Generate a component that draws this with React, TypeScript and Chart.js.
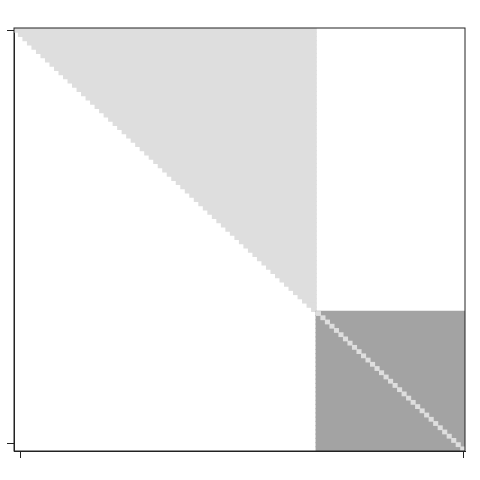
import React, { useEffect, useRef } from "react";
import { Chart, registerables } from "chart.js";

Chart.register(...registerables);

// Matrix structure (100 x 100 cells)
const MATRIX_SIZE = 100;
const BLOCK_START = 67; // first row/column of the dark block

const rowLabels: string[] = Array.from({ length: MATRIX_SIZE }, (_, i) => String(i + 1));

// Upper-triangle light region: row i covers columns i .. BLOCK_START
const triangleRuns: ([number, number] | null)[] = rowLabels.map((_, i) =>
  i < BLOCK_START ? [i, BLOCK_START] : null
);
// Dark block in the lower-right corner
const blockRuns: ([number, number] | null)[] = rowLabels.map((_, i) =>
  i >= BLOCK_START ? [BLOCK_START, MATRIX_SIZE] : null
);
// Light diagonal inside the dark block
const diagonalRuns: ([number, number] | null)[] = rowLabels.map((_, i) =>
  i >= BLOCK_START ? [i, i + 1] : null
);

const xTickValues = [1.55, 99.6];
const yTickValues = [0.64, 98.3];

const LIGHT = "#dedede";
const DARK = "#a3a3a3";
const AXIS = "#222222";

const framePlugin = {
  id: "frame",
  afterDraw(chart: any) {
    const { ctx, chartArea } = chart;
    ctx.save();
    ctx.strokeStyle = AXIS;
    ctx.lineWidth = 1;
    ctx.strokeRect(chartArea.left, chartArea.top, chartArea.right - chartArea.left, chartArea.bottom - chartArea.top);
    ctx.restore();
  },
};

export default function App() {
  const canvasRef = useRef<HTMLCanvasElement | null>(null);

  useEffect(() => {
    if (!canvasRef.current) return;
    const chart = new Chart(canvasRef.current, {
      type: "bar",
      data: {
        labels: rowLabels,
        datasets: [
          {
            label: "diagonal",
            data: diagonalRuns as any,
            backgroundColor: LIGHT,
            borderWidth: 0,
            inflateAmount: 0.3,
            order: 0,
          },
          {
            label: "block",
            data: blockRuns as any,
            backgroundColor: DARK,
            borderWidth: 0,
            inflateAmount: 0.6,
            order: 1,
          },
          {
            label: "triangle",
            data: triangleRuns as any,
            backgroundColor: LIGHT,
            borderWidth: 0,
            inflateAmount: 0.6,
            order: 2,
          },
        ],
      },
      options: {
        indexAxis: "y",
        responsive: false,
        animation: false,
        maintainAspectRatio: false,
        layout: { padding: { left: 0, top: 28, right: 15, bottom: 0 } },
        datasets: {
          bar: { grouped: false, barPercentage: 1, categoryPercentage: 1 },
        },
        plugins: { legend: { display: false }, tooltip: { enabled: false } },
        scales: {
          y: {
            type: "category",
            display: false,
          },
          y2: {
            type: "linear",
            position: "left",
            min: 0,
            max: MATRIX_SIZE,
            reverse: true,
            offset: false,
            afterBuildTicks: (scale: any) => {
              scale.ticks = yTickValues.map((v) => ({ value: v }));
            },
            afterFit: (scale: any) => {
              scale.width = 14;
            },
            ticks: { display: false },
            grid: { offset: false, drawOnChartArea: false, drawTicks: true, tickLength: 7, color: AXIS },
            border: { display: true, color: AXIS },
          },
          x: {
            type: "linear",
            position: "bottom",
            min: 0,
            max: MATRIX_SIZE,
            offset: false,
            afterBuildTicks: (scale: any) => {
              scale.ticks = xTickValues.map((v) => ({ value: v }));
            },
            afterFit: (scale: any) => {
              scale.height = 29;
            },
            ticks: { display: false },
            grid: { offset: false, drawOnChartArea: false, drawTicks: true, tickLength: 7, color: AXIS },
            border: { display: true, color: AXIS },
          },
        },
      } as any,
      plugins: [framePlugin],
    });
    return () => chart.destroy();
  }, []);

  return (
    <div style={{ position: "fixed", left: 0, top: 0, width: 480, height: 480, background: "#fff" }}>
      <canvas ref={canvasRef} width={480} height={480} style={{ display: "block" }} />
    </div>
  );
}
